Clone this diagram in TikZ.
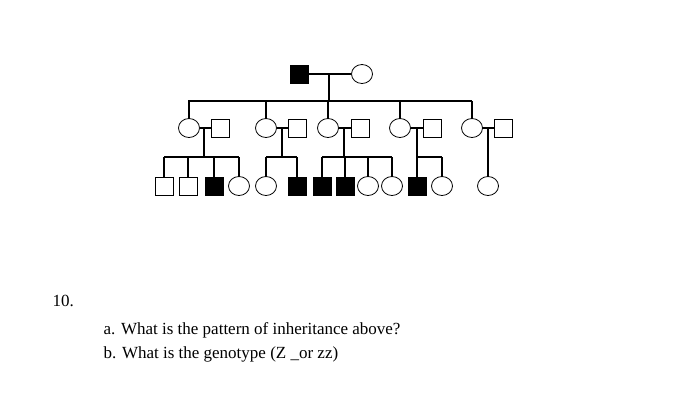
\documentclass[tikz,border=0pt]{standalone}
\usepackage{fontspec}
\setmainfont{Liberation Serif}
\usetikzlibrary{shapes.geometric}
\begin{document}
\begin{tikzpicture}[x=1pt,y=-1pt,line width=1.2pt,
  m/.style={draw,rectangle,minimum size=18pt,inner sep=0pt,fill=white,line width=0.8pt},
  ma/.style={m,fill=black},
  f/.style={draw,ellipse,minimum width=21pt,minimum height=19pt,inner sep=0pt,fill=white,line width=0.8pt},
  txt/.style={font=\fontsize{17}{20}\selectfont,anchor=base west,inner sep=0pt}]
\useasboundingbox (0,0) rectangle (700,416);
% generation 1
\node[ma] (g1m) at (299,74) {};
\node[f] (g1f) at (362,74) {};
\draw (g1m) -- (g1f);
\coordinate (c0) at (329,74);
\coordinate (s0) at (329,101);
\draw (c0) -- (s0);
\draw (188,101) -- (472,101);
% generation 2
\foreach \i/\fx/\mx/\dx in {1/189/220/204, 2/266/297/282, 3/328/360/344, 4/400/432/417, 5/472/503/488}{
  \coordinate (t\i) at (\fx,101);
  \draw (t\i) -- (\fx,118);
  \node[f] (w\i) at (\fx,128) {};
  \node[m] (h\i) at (\mx,128) {};
  \draw (w\i) -- (h\i);
  \coordinate (d\i) at (\dx,128);
}
% sibship lines
\draw (d1) -- (204,157); \draw (164,157) -- (239,157);
\draw (d2) -- (282,157); \draw (266,157) -- (297,157);
\draw (d3) -- (344,157); \draw (322,157) -- (392,157);
\draw (d4) -- (417,157); \draw (417,157) -- (442,157);
\draw (d5) -- (488,157);
% generation 3
\foreach \n/\x/\s in {a/164/m, b/188/m, c/214/ma, d/239/f, e/266/f, g/297/ma, h/322/ma, i/345/ma, j/368/f, k/392/f, l/417/ma, n/442/f, o/488/f}{
  \draw (\x,157) -- (\x,178);
  \node[\s] (k\n) at (\x,186) {};
}
% text
\node[txt] (q0) at (52,306) {10.};
\node[txt] (qa) at (103,334) {a. What is the pattern of inheritance above?};
\node[txt] (qb) at (103,358) {b. What is the genotype (Z \_or zz)};
\end{tikzpicture}
\end{document}
